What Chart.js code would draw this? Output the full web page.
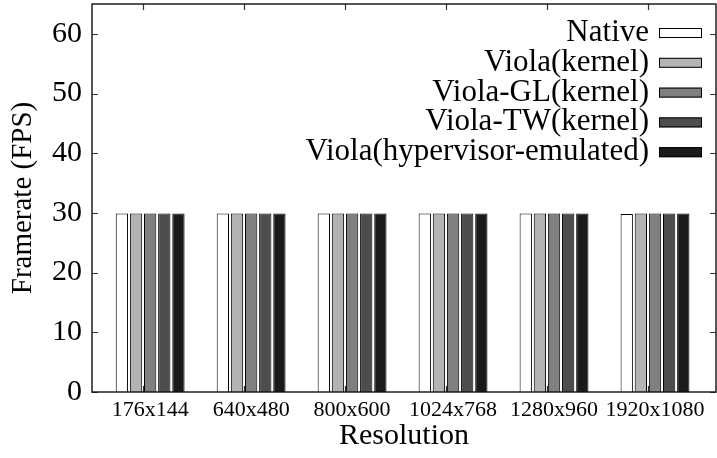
<!DOCTYPE html>
<html><head><meta charset="utf-8">
<script src="https://cdn.jsdelivr.net/npm/chart.js@4/dist/chart.umd.min.js"></script>
<style>html,body{margin:0;padding:0;background:#fff}#wrap{width:717px;height:458px}</style>
</head><body><div id="wrap"><canvas id="c" width="717" height="458"></canvas></div>
<script>
// ---- data ----
const categories = ['176x144','640x480','800x600','1024x768','1280x960','1920x1080'];
const seriesNames = ['Native','Viola(kernel)','Viola-GL(kernel)','Viola-TW(kernel)','Viola(hypervisor-emulated)'];
const nativeFps      = [29.9, 29.9, 29.9, 29.9, 29.9, 29.8];
const violaKernel    = [29.9, 29.9, 29.9, 29.9, 29.9, 29.9];
const violaGLKernel  = [29.9, 29.9, 29.9, 29.9, 29.9, 29.9];
const violaTWKernel  = [29.9, 29.9, 29.9, 29.9, 29.9, 29.9];
const violaHyperEmu  = [29.9, 29.9, 29.9, 29.9, 29.9, 29.9];
const yTickValues = [0, 10, 20, 30, 40, 50, 60];

// ---- style ----
const FONT = '"Liberation Serif","Times New Roman",serif';
const fills = ['#ffffff', '#b3b3b3', '#808080', '#4d4d4d', '#1a1a1a'];
const seriesValues = [nativeFps, violaKernel, violaGLKernel, violaTWKernel, violaHyperEmu];
const tickShift = -0.074;

const datasets = seriesNames.map((name, s) => ({
  label: name,
  data: seriesValues[s].map((v, i) => ({x: i, y: v})),
  backgroundColor: fills[s],
  borderColor: '#000',
  borderWidth: 1,
  borderSkipped: 'start',
  categoryPercentage: 0.70,
  barPercentage: 0.87
}));

const ticksPlugin = {
  id: 'inTicks',
  beforeDatasetsDraw(chart) {
    const {ctx, chartArea: a, scales: {x, y}} = chart;
    ctx.save();
    ctx.strokeStyle = '#333';
    ctx.lineWidth = 1.2;
    ctx.beginPath();
    yTickValues.forEach(v => {
      const py = Math.round(y.getPixelForValue(v)) + 0.5;
      ctx.moveTo(a.left, py); ctx.lineTo(a.left + 6, py);
      ctx.moveTo(a.right, py); ctx.lineTo(a.right - 6, py);
    });
    categories.forEach((c, i) => {
      const px = Math.round(x.getPixelForValue(i + tickShift)) + 0.5;
      ctx.moveTo(px, a.top); ctx.lineTo(px, a.top + 6);
      ctx.moveTo(px, a.bottom); ctx.lineTo(px, a.bottom - 6);
    });
    ctx.stroke();
    ctx.restore();
  },
  afterDatasetsDraw(chart) {
    const {ctx, chartArea: a} = chart;
    ctx.save();
    ctx.strokeStyle = '#111';
    ctx.lineWidth = 1.4;
    ctx.strokeRect(a.left, a.top, a.right - a.left, a.bottom - a.top);
    ctx.restore();
  },
  afterDraw(chart) {
    const {ctx, chartArea: a} = chart;
    ctx.save();
    ctx.font = '31px ' + FONT;
    ctx.textAlign = 'right';
    ctx.textBaseline = 'alphabetic';
    chart.data.datasets.forEach((ds, i) => {
      const cy = a.top + 29 + i * 29.8;
      ctx.fillStyle = '#000';
      ctx.fillText(ds.label, a.right - 67, cy + 8);
      ctx.fillStyle = ds.backgroundColor;
      ctx.fillRect(a.right - 57, cy - 5, 43, 10);
      ctx.strokeStyle = '#000';
      ctx.lineWidth = 1;
      ctx.strokeRect(a.right - 56.5, cy - 4.5, 42, 9);
    });
    ctx.restore();
  }
};

new Chart(document.getElementById('c'), {
  type: 'bar',
  data: { datasets },
  options: {
    responsive: false,
    devicePixelRatio: 1,
    animation: false,
    layout: { padding: { top: 4, right: 1, left: 0, bottom: 0 } },
    plugins: { legend: { display: false }, tooltip: { enabled: false } },
    scales: {
      x: {
        type: 'linear',
        offset: false,
        min: -0.576,
        max: 5.604,
        grid: { display: false, drawTicks: false },
        border: { display: false },
        afterBuildTicks: s => { s.ticks = categories.map((c, i) => ({value: i})); },
        afterFit: s => { s.height = 66; s.paddingLeft = 0; s.paddingRight = 0; },
        ticks: {
          autoSkip: false, maxRotation: 0, minRotation: 0,
          padding: 5, color: '#000',
          font: { family: FONT, size: 22 },
          callback: (v) => categories[v]
        },
        title: { display: true, text: 'Resolution', color: '#000',
                 font: { family: FONT, size: 30 }, padding: { top: 0, bottom: 3.5 } }
      },
      y: {
        min: 0, max: 65,
        grid: { display: false, drawTicks: false },
        border: { display: false },
        afterBuildTicks: s => { s.ticks = yTickValues.map(v => ({value: v})); },
        afterFit: s => { s.width = 92; s.paddingTop = 0; s.paddingBottom = 0; },
        ticks: { padding: 10, color: '#000', font: { family: FONT, size: 30 } },
        title: { display: true, text: 'Framerate (FPS)', color: '#000',
                 font: { family: FONT, size: 29 }, padding: { top: 5.5, bottom: 0 } }
      }
    }
  },
  plugins: [ticksPlugin]
});
</script></body></html>
